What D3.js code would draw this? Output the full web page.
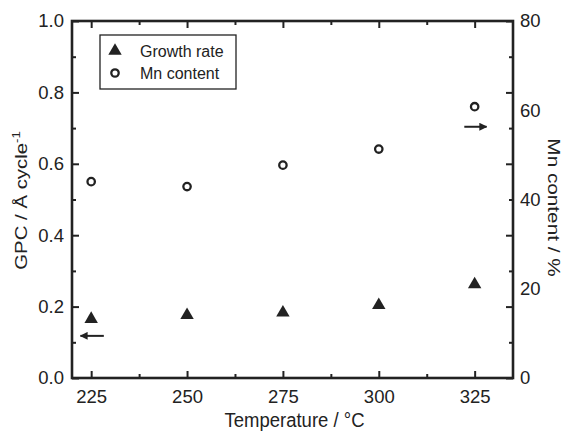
<!DOCTYPE html>
<html><head><meta charset="utf-8">
<script src="https://cdn.jsdelivr.net/npm/d3@7"></script>
<style>
html,body{margin:0;padding:0;background:#fff;}
text{font-family:"Liberation Sans",Arial,sans-serif;fill:#222;}
</style></head>
<body>
<svg id="chart" width="564" height="432"></svg>
<script>
const temps = [225, 250, 275, 300, 325];
const gpc = [0.165, 0.176, 0.183, 0.204, 0.262];
const mnContent = [44.0, 42.9, 47.7, 51.3, 60.8];
const xTicks = [225, 250, 275, 300, 325];
const xMinor = [237.5, 262.5, 287.5, 312.5];
const yLeftTicks = [0, 0.2, 0.4, 0.6, 0.8, 1.0];
const yLeftMinor = [0.1, 0.3, 0.5, 0.7, 0.9];
const yRightTicks = [0, 20, 40, 60, 80];
const legendLabels = ["Growth rate", "Mn content"];

const svg = d3.select("#chart");
const L = 72, R = 513, T = 21, B = 378;
const x = d3.scaleLinear().domain([220, 335]).range([L, R]);
const yL = d3.scaleLinear().domain([0, 1]).range([B, T]);
const yR = d3.scaleLinear().domain([0, 80]).range([B, T]);
const ink = "#222";

function style(g, labels) {
  g.select(".domain").remove();
  g.selectAll(".tick line").attr("stroke", ink).attr("stroke-width", 2);
  if (labels) g.selectAll(".tick text").attr("font-size", 18.5).attr("fill", ink)
      .style("font-family", '"Liberation Sans",Arial,sans-serif');
  else g.selectAll(".tick text").remove();
}
// bottom
svg.append("g").attr("transform", `translate(0,${B})`)
  .call(d3.axisBottom(x).tickValues(xTicks).tickFormat(d3.format("d")).tickSize(-7).tickPadding(12)).call(g => style(g, true));
svg.append("g").attr("transform", `translate(0,${B})`)
  .call(d3.axisBottom(x).tickValues(xMinor).tickSize(-4)).call(g => style(g, false));
// top
svg.append("g").attr("transform", `translate(0,${T})`)
  .call(d3.axisTop(x).tickValues(xTicks).tickSize(-7)).call(g => style(g, false));
svg.append("g").attr("transform", `translate(0,${T})`)
  .call(d3.axisTop(x).tickValues(xMinor).tickSize(-4)).call(g => style(g, false));
// left
svg.append("g").attr("transform", `translate(${L},0)`)
  .call(d3.axisLeft(yL).tickValues(yLeftTicks).tickFormat(d3.format(".1f")).tickSize(-7).tickPadding(8)).call(g => style(g, true));
svg.append("g").attr("transform", `translate(${L},0)`)
  .call(d3.axisLeft(yL).tickValues(yLeftMinor).tickSize(-4)).call(g => style(g, false));
// right (mirrored ticks)
svg.append("g").attr("transform", `translate(${R},0)`)
  .call(d3.axisRight(yL).tickValues(yLeftTicks).tickSize(-7)).call(g => style(g, false));
svg.append("g").attr("transform", `translate(${R},0)`)
  .call(d3.axisRight(yL).tickValues(yLeftMinor).tickSize(-4)).call(g => style(g, false));
// right labels
svg.append("g").attr("transform", `translate(${R},0)`)
  .call(d3.axisRight(yR).tickValues(yRightTicks).tickFormat(d3.format("d")).tickSize(0).tickPadding(7)).call(g => style(g, true));

// frame
svg.append("rect").attr("x", L).attr("y", T).attr("width", R - L).attr("height", B - T)
  .attr("fill", "none").attr("stroke", ink).attr("stroke-width", 2.6);

// titles
svg.append("text").attr("transform", `translate(${(L + R) / 2 + 2},427) scale(1,1.08)`)
  .attr("text-anchor", "middle").attr("font-size", 18.5).text("Temperature / °C");
const lt = svg.append("text").attr("transform", `translate(27,200.5) rotate(-90) scale(1.2,1)`)
  .attr("text-anchor", "middle").attr("font-size", 17);
lt.append("tspan").text("GPC / Å cycle");
lt.append("tspan").attr("font-size", 11).attr("dy", -7).text("-1");
svg.append("text").attr("transform", `translate(548,207.5) rotate(90) scale(1.22,1)`)
  .attr("text-anchor", "middle").attr("font-size", 17).text("Mn content / %");

// data
const tri = d3.symbol(d3.symbolTriangle, 78);
svg.append("g").selectAll("path").data(temps).join("path")
  .attr("transform", (d, i) => `translate(${x(d)},${yL(gpc[i])})`)
  .attr("d", tri).attr("fill", ink);
svg.append("g").selectAll("circle").data(temps).join("circle")
  .attr("cx", d => x(d)).attr("cy", (d, i) => yR(mnContent[i])).attr("r", 3.7)
  .attr("fill", "none").attr("stroke", ink).attr("stroke-width", 2.3);

// arrows
svg.append("defs").append("marker").attr("id", "ah").attr("viewBox", "0 0 10 10")
  .attr("refX", 9).attr("refY", 5).attr("markerWidth", 4).attr("markerHeight", 4)
  .attr("markerUnits", "strokeWidth").attr("orient", "auto")
  .append("path").attr("d", "M0,0 L10,5 L0,10 Z").attr("fill", ink);
svg.append("line").attr("x1", x(228.3)).attr("x2", x(222.2)).attr("y1", yL(0.118)).attr("y2", yL(0.118))
  .attr("stroke", ink).attr("stroke-width", 2).attr("marker-end", "url(#ah)");
svg.append("line").attr("x1", x(322.3)).attr("x2", x(328.1)).attr("y1", yR(56.3)).attr("y2", yR(56.3))
  .attr("stroke", ink).attr("stroke-width", 2).attr("marker-end", "url(#ah)");

// legend
const lg = svg.append("g");
lg.append("rect").attr("x", 100).attr("y", 35).attr("width", 136).attr("height", 54)
  .attr("fill", "#fff").attr("stroke", ink).attr("stroke-width", 1.3);
lg.append("path").attr("transform", "translate(115,51)").attr("d", tri).attr("fill", ink);
lg.append("circle").attr("cx", 115).attr("cy", 73).attr("r", 3.7).attr("fill", "none")
  .attr("stroke", ink).attr("stroke-width", 2.3);
lg.selectAll("text.lab").data(legendLabels).join("text").attr("class", "lab")
  .attr("x", 140).attr("y", (d, i) => 57 + i * 22).attr("font-size", 16).text(d => d);
</script>
</body></html>
